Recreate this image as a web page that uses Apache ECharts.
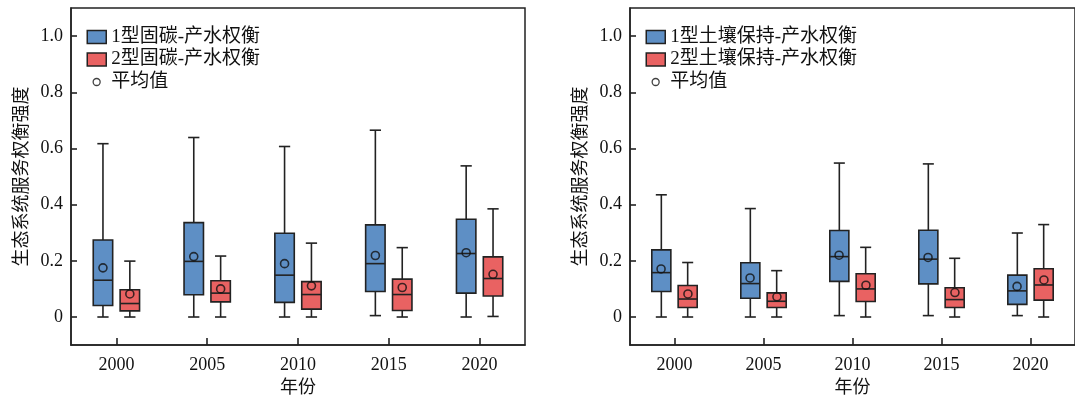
<!doctype html>
<html>
<head>
    <meta charset="utf-8">
    <title>权衡强度箱线图</title>
    <script src="https://cdnjs.cloudflare.com/ajax/libs/echarts/6.0.0/echarts.min.js"></script>
</head>
<style>
    html, body { margin: 0; padding: 0; background: #fff; }
    #main { width: 1075px; height: 402px; }
</style>
<body>
<div id="main"></div>
<script>
  // ---- data ----
  var years = ['2000', '2005', '2010', '2015', '2020'];
  var yTicks = [0, 0.2, 0.4, 0.6, 0.8, 1.0];

  // [min, Q1, median, Q3, max]
  var carbon1 = [[0, 0.041, 0.131, 0.274, 0.617], [0, 0.079, 0.198, 0.336, 0.639], [0, 0.052, 0.149, 0.298, 0.607], [0.005, 0.091, 0.190, 0.328, 0.665], [0, 0.085, 0.226, 0.348, 0.538]];
  var carbon2 = [[0, 0.022, 0.048, 0.097, 0.199], [0, 0.054, 0.085, 0.129, 0.217], [0, 0.028, 0.080, 0.126, 0.263], [0, 0.023, 0.080, 0.135, 0.247], [0.002, 0.075, 0.137, 0.214, 0.385]];
  var carbon1Mean = [0.175, 0.215, 0.190, 0.219, 0.229];
  var carbon2Mean = [0.082, 0.100, 0.111, 0.105, 0.152];

  var soil1 = [[0, 0.091, 0.158, 0.239, 0.435], [0, 0.067, 0.119, 0.193, 0.386], [0.005, 0.127, 0.215, 0.308, 0.548], [0.005, 0.118, 0.206, 0.309, 0.545], [0.005, 0.045, 0.093, 0.149, 0.299]];
  var soil2 = [[0, 0.034, 0.064, 0.112, 0.194], [0, 0.034, 0.056, 0.086, 0.165], [0, 0.055, 0.100, 0.154, 0.248], [0, 0.034, 0.062, 0.104, 0.209], [0, 0.060, 0.114, 0.172, 0.329]];
  var soil1Mean = [0.171, 0.139, 0.220, 0.212, 0.109];
  var soil2Mean = [0.082, 0.072, 0.113, 0.087, 0.132];

  var panels = [
    { names: ['1型固碳-产水权衡', '2型固碳-产水权衡'], boxes: [carbon1, carbon2], means: [carbon1Mean, carbon2Mean], left: 71 },
    { names: ['1型土壤保持-产水权衡', '2型土壤保持-产水权衡'], boxes: [soil1, soil2], means: [soil1Mean, soil2Mean], left: 630 }
  ];

  // ---- style ----
  var colors = ['#5e8fc5', '#e96262'];
  var ink = '#222';
  var font = '"Liberation Serif", "Noto Sans CJK SC", serif';
  var gridW = 454, gridTop = 8, gridH = 341;
  var offFrac = 0.148;   // box offset from category centre, fraction of band
  var halfFrac = 0.107;  // half box width
  var capFrac = 0.062;   // half whisker cap width

  function boxRender(dir, color) {
    return function (params, api) {
      var i = api.value(0);
      var band = api.size([1, 0])[0];
      var cx = api.coord([i, 0])[0] + dir * offFrac * band;
      var y = [1, 2, 3, 4, 5].map(function (k) { return api.coord([i, api.value(k)])[1]; });
      var hw = band * halfFrac, cw = band * capFrac;
      var ls = { stroke: ink, lineWidth: 1.6 };
      return {
        type: 'group',
        children: [
          { type: 'line', shape: { x1: cx, y1: y[4], x2: cx, y2: y[3] }, style: ls },
          { type: 'line', shape: { x1: cx, y1: y[1], x2: cx, y2: y[0] }, style: ls },
          { type: 'line', shape: { x1: cx - cw, y1: y[4], x2: cx + cw, y2: y[4] }, style: ls },
          { type: 'line', shape: { x1: cx - cw, y1: y[0], x2: cx + cw, y2: y[0] }, style: ls },
          { type: 'rect', shape: { x: cx - hw, y: y[3], width: 2 * hw, height: y[1] - y[3] },
            style: { fill: color, stroke: ink, lineWidth: 1.6 } },
          { type: 'line', shape: { x1: cx - hw, y1: y[2], x2: cx + hw, y2: y[2] }, style: ls }
        ]
      };
    };
  }

  var grid = [], xAxis = [], yAxis = [], series = [], legend = [];
  panels.forEach(function (p, g) {
    grid.push({ left: p.left, top: gridTop, width: gridW, height: gridH, show: true,
      borderColor: ink, borderWidth: 1.5 });
    xAxis.push({
      type: 'category', gridIndex: g, data: years,
      name: '年份', nameLocation: 'middle', nameGap: 32,
      nameTextStyle: { fontFamily: font, fontSize: 18, color: '#111' },
      axisLine: { onZero: false, lineStyle: { color: ink, width: 1.5 } },
      axisTick: { show: true, inside: true, alignWithLabel: true, length: 7, lineStyle: { color: ink, width: 1.6 } },
      axisLabel: { fontFamily: font, fontSize: 18, color: '#111', margin: 11 }
    });
    yAxis.push({
      type: 'value', gridIndex: g, min: -0.1, max: 1.1,
      name: '生态系统服务权衡强度', nameLocation: 'middle', nameGap: 40,
      nameTextStyle: { fontFamily: font, fontSize: 18, color: '#111' },
      splitLine: { show: false },
      axisLine: { show: true, onZero: false, lineStyle: { color: ink, width: 1.5 } },
      axisTick: { show: true, inside: true, length: 6, customValues: yTicks, lineStyle: { color: ink, width: 1.6 } },
      axisLabel: { fontFamily: font, fontSize: 18, color: '#111', margin: 8, customValues: yTicks,
        formatter: function (v) { return v === 0 ? '0' : v.toFixed(1); } }
    });
    [0, 1].forEach(function (k) {
      var dir = k === 0 ? -1 : 1;
      series.push({
        type: 'custom', name: p.names[k], xAxisIndex: g, yAxisIndex: g,
        itemStyle: { color: colors[k] },
        renderItem: boxRender(dir, colors[k]),
        encode: { x: 0, y: [1, 2, 3, 4, 5] },
        data: p.boxes[k].map(function (b, i) { return [i].concat(b); })
      });
    });
    [0, 1].forEach(function (k) {
      var dir = k === 0 ? -1 : 1;
      series.push({
        type: 'scatter', name: '平均值', xAxisIndex: g, yAxisIndex: g,
        symbol: 'circle', symbolSize: 8,
        symbolOffset: [dir * offFrac * gridW / years.length, 0],
        itemStyle: { color: 'rgba(0,0,0,0)', borderColor: '#111', borderWidth: 1.6 },
        z: 5,
        data: p.means[k]
      });
    });
    var lx = p.left + 15.5;
    legend.push({
      orient: 'vertical', left: lx, top: 27, padding: 0, itemGap: 2.5,
      itemWidth: 19, itemHeight: 13, icon: 'rect',
      textStyle: { fontFamily: font, fontSize: 19, color: '#111', lineHeight: 20 },
      data: p.names.map(function (n, k) {
        return { name: n, itemStyle: { color: colors[k], borderColor: ink, borderWidth: 1.5 } };
      }),
      selectedMode: false
    });
    legend.push({
      orient: 'vertical', left: lx + 6, top: 72, padding: 0,
      itemWidth: 7, itemHeight: 7, icon: 'circle',
      textStyle: { fontFamily: font, fontSize: 19, color: '#111', lineHeight: 20, padding: [0, 0, 0, 6] },
      data: [{ name: '平均值', itemStyle: { color: '#fff', borderColor: '#111', borderWidth: 1.3 } }],
      selectedMode: false
    });
  });

  var myChart = echarts.init(document.getElementById('main'), null, { renderer: 'canvas' });
  myChart.setOption({
    animation: false,
    backgroundColor: '#fff',
    grid: grid,
    xAxis: xAxis,
    yAxis: yAxis,
    legend: legend,
    series: series
  });
</script>
</body>
</html>
